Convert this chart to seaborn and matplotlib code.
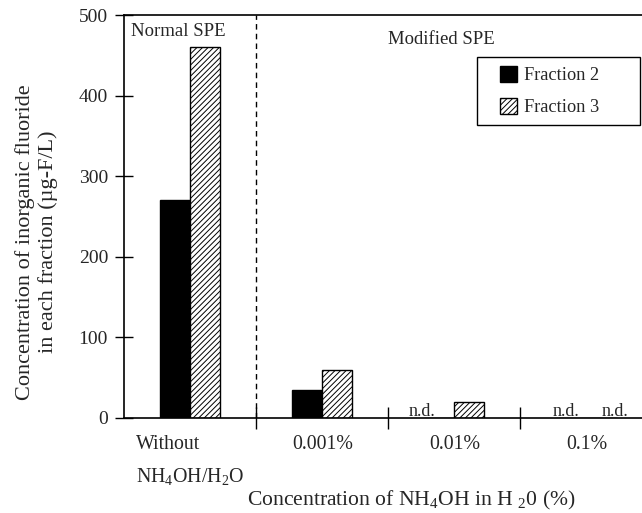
import matplotlib
matplotlib.use("Agg")
import matplotlib.pyplot as plt
import matplotlib.patches as mpatches
import seaborn as sns
import pandas as pd

categories = ["Without\nNH$_4$OH/H$_2$O", "0.001%", "0.01%", "0.1%"]
fraction2 = [270, 35, 0, 0]
fraction3 = [460, 60, 20, 0]
series_names = ["Fraction 2", "Fraction 3"]
yticks = [0, 100, 200, 300, 400, 500]

sns.set_theme(style="white")
plt.rcParams["font.family"] = ["Liberation Serif", "DejaVu Serif"]
plt.rcParams["mathtext.fontset"] = "custom"
plt.rcParams["mathtext.rm"] = "Liberation Serif"
plt.rcParams["mathtext.it"] = "Liberation Serif:italic"
plt.rcParams["hatch.linewidth"] = 0.7

df = pd.DataFrame({
    "cat": categories * 2,
    "val": fraction2 + fraction3,
    "frac": [series_names[0]] * 4 + [series_names[1]] * 4,
})

fig = plt.figure(figsize=(6.42, 5.13), dpi=100)
ax = fig.add_axes([124 / 642, 1 - 418 / 513, 1 - 124 / 642, (418 - 15) / 513])

sns.barplot(data=df, x="cat", y="val", hue="frac", palette=["black", "white"],
            edgecolor="black", linewidth=1.0, width=0.455, gap=0, ax=ax,
            legend=False, saturation=1)

for p in ax.containers[1]:
    p.set_hatch("//////")

ax.set_xlim(-0.5, 3.42)
ax.set_ylim(0, 500)
ax.set_yticks(yticks)
ax.set_yticklabels([str(v) for v in yticks], fontsize=14)
ax.set_xticks(range(len(categories)))
ax.set_xticklabels(categories, fontsize=14.3, linespacing=1.75, multialignment="left")
ax.tick_params(axis="x", which="major", bottom=True, length=0, pad=12)
ax.set_xticks([0.5, 1.5, 2.5], minor=True)
ax.tick_params(axis="x", which="minor", bottom=True, direction="inout", length=16, width=1, color="black")
ax.tick_params(axis="y", which="major", left=True, direction="inout", length=13, width=1, color="black", pad=5)

for s in ["left", "bottom", "top"]:
    ax.spines[s].set_color("black")
    ax.spines[s].set_linewidth(1.2)
ax.spines["right"].set_visible(False)

ax.axvline(0.5, color="black", lw=1.0, dashes=(4, 3))

ax.text(-0.447, 479, "Normal SPE", fontsize=13.5, va="center", ha="left")
ax.text(1.90, 469, "Modified SPE", fontsize=13.5, va="center", ha="center")

nd_offsets = {(0, 2): -0.13, (0, 3): -0.045, (1, 3): 0.1}
for (si, ci), off in nd_offsets.items():
    bar = ax.containers[si][ci]
    xc = bar.get_x() + bar.get_width() / 2 + off
    ax.text(xc, -3, "n.d.", fontsize=13, ha="center", va="bottom")

ax.set_ylabel("Concentration of inorganic fluoride\nin each fraction (µg-F/L)", fontsize=16)
ax.yaxis.set_label_coords(-0.127, 0.437)
ax.set_xlabel("Concentration of NH$_4$OH in H $_2$0 (%)", fontsize=15.6)
ax.xaxis.set_label_coords(0.554, -0.176)

box = mpatches.Rectangle((0.6815, 0.727), 0.3146, 0.169, transform=ax.transAxes,
                         facecolor="white", edgecolor="black", lw=1.0, zorder=4, clip_on=False)
ax.add_patch(box)
leg = ax.legend(ax.containers, series_names, loc="upper left",
                bbox_to_anchor=(0.726, 0.873), borderaxespad=0, borderpad=0,
                fontsize=13.2, frameon=False, handlelength=0.95, handleheight=0.95,
                handletextpad=0.35, labelspacing=0.75)
leg.set_zorder(5)

fig.savefig("out.png", dpi=100)
